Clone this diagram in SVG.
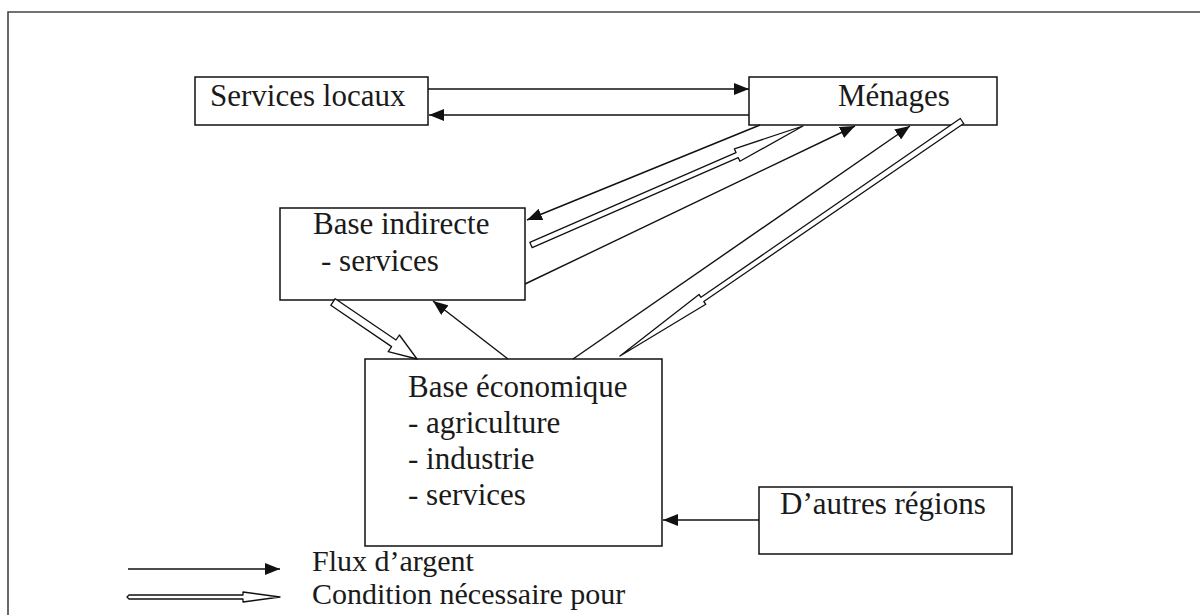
<svg xmlns="http://www.w3.org/2000/svg" width="1200" height="615" viewBox="0 0 1200 615">
  <style>
    .box { fill: #fff; stroke: #111; stroke-width: 1.5; }
    .lbl { font-family: "Liberation Serif", "Times New Roman", serif; font-size: 31px; fill: #1a1a1a; }
    .key { font-family: "Liberation Serif", "Times New Roman", serif; font-size: 30px; fill: #1a1a1a; }
    .flow { fill: none; stroke: #111; stroke-width: 1.4; marker-end: url(#head); }
    .cond { fill: #fff; stroke: #111; stroke-width: 1.3; stroke-linejoin: round; }
    .frame { fill: none; stroke: #444; stroke-width: 1.6; }
  </style>
  <defs>
    <marker id="head" viewBox="0 0 15 12" refX="15" refY="6" markerWidth="15" markerHeight="12" markerUnits="userSpaceOnUse" orient="auto">
      <path d="M0,0 L15,6 L0,12 Z" fill="#111"/>
    </marker>
  </defs>

  <rect width="1200" height="615" fill="#fff"/>
  <!-- page frame -->
  <path class="frame" d="M8,615 V12 H1200"/>

  <!-- nodes -->
  <g id="services-locaux">
    <rect class="box" x="195" y="77" width="233" height="48"/>
    <text class="lbl" x="210" y="106">Services locaux</text>
  </g>
  <g id="menages">
    <rect class="box" x="749" y="77" width="248" height="48"/>
    <text class="lbl" x="838" y="106">Ménages</text>
  </g>
  <g id="base-indirecte">
    <rect class="box" x="280" y="208" width="245" height="92"/>
    <text class="lbl" x="313" y="234">Base indirecte</text>
    <text class="lbl" x="321" y="271">- services</text>
  </g>
  <g id="base-economique">
    <rect class="box" x="365" y="359" width="297" height="187"/>
    <text class="lbl" x="408" y="397">Base économique</text>
    <text class="lbl" x="408" y="433">- agriculture</text>
    <text class="lbl" x="408" y="469">- industrie</text>
    <text class="lbl" x="408" y="505">- services</text>
  </g>
  <g id="autres-regions">
    <rect class="box" x="759" y="487" width="253" height="67"/>
    <text class="lbl" x="780" y="514">D’autres régions</text>
  </g>

  <!-- connectors -->
  <g id="connectors">
    <!-- money flows -->
    <line class="flow" x1="428" y1="89" x2="749" y2="89"/>
    <line class="flow" x1="749" y1="115" x2="429" y2="115"/>
    <line class="flow" x1="760" y1="125" x2="527" y2="220"/>
    <line class="flow" x1="525" y1="284" x2="855" y2="126"/>
    <line class="flow" x1="573" y1="359" x2="910" y2="126"/>
    <line class="flow" x1="508" y1="359" x2="433" y2="301"/>
    <line class="flow" x1="759" y1="520" x2="663" y2="520"/>
    <!-- necessary conditions -->
    <polygon class="cond" points="532.2,247.7 738.2,157.6 739.9,161.3 803,126 734.4,148.9 736.0,152.6 529.8,242.3"/>
    <polygon class="cond" points="960.3,118.5 701.0,297.3 699.0,294.5 620,356 705.8,304.3 703.8,301.5 963.7,123.5"/>
    <polygon class="cond" points="330.8,305.3 391.6,346.6 388.2,351.6 417,359 399.4,335.0 396.0,340.0 335.2,298.7"/>
  </g>

  <!-- legend -->
  <g id="legend">
    <line class="flow" x1="128" y1="569" x2="280" y2="569"/>
    <polygon class="cond" points="129,595 243,595 243,592 280,597 243,602 243,599 129,599 127,597"/>
    <text class="key" x="312" y="571">Flux d’argent</text>
    <text class="key" x="312" y="604">Condition nécessaire pour</text>
  </g>
</svg>
